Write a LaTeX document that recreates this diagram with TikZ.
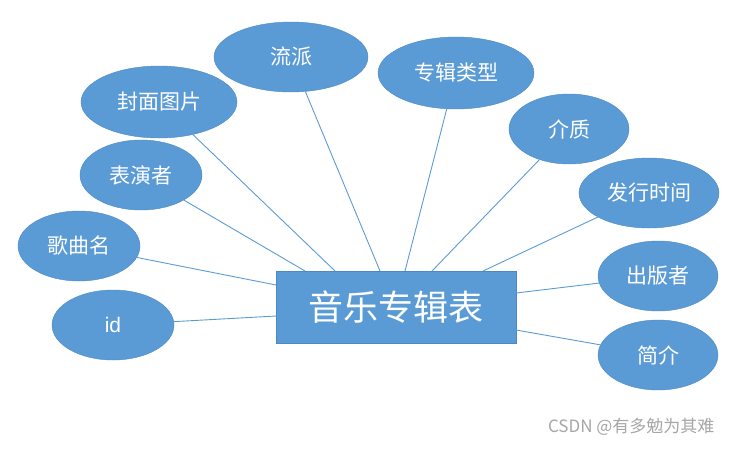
\documentclass[tikz,border=0pt]{standalone}
\usepackage{fontspec}
\usetikzlibrary{shapes.geometric}
\newfontfamily\cjk{Noto Sans CJK SC}
\definecolor{fillb}{HTML}{5B9BD5}
\definecolor{edgeb}{HTML}{4A89C4}
\begin{document}
\begin{tikzpicture}[x=1pt,y=-1pt,
  ell/.style={ellipse,draw=edgeb,fill=fillb,text=white,inner sep=0pt,font=\cjk\fontsize{21}{24}\selectfont},
  conn/.style={draw=fillb,line width=0.9pt}]
\useasboundingbox (0,0) rectangle (733,448);
\def\E#1#2#3#4#5#6{\node[ell,minimum width=#4*2pt,minimum height=#5*2pt] (#1) at (#2,#3) {#6};}
\E{lp}{291}{57}{77}{35}{流派}
\E{zj}{456}{73}{78}{36}{专辑类型}
\E{fm}{159}{102}{78}{36}{封面图片}
\E{jz}{569}{129}{60}{35}{介质}
\E{by}{141}{175}{61}{35}{表演者}
\E{fx}{649}{193}{70}{35}{发行时间}
\E{gq}{79}{246}{61}{35}{歌曲名}
\E{cb}{658}{276}{60}{35}{出版者}
\E{id}{113}{325}{61}{35}{\fontspec{Liberation Sans}id}
\E{jj}{658}{355}{60}{35}{简介}
\node[draw=edgeb,fill=fillb,text=white,minimum width=240pt,minimum height=72pt,inner sep=0pt,font=\cjk\fontsize{35}{40}\selectfont] (box) at (396,307) {音乐专辑表};
\coordinate (p1) at (380,271);
\coordinate (p2) at (405,271);
\coordinate (p3) at (335,271);
\coordinate (p4) at (432,271);
\coordinate (p5) at (305,271);
\coordinate (p6) at (483,271);
\coordinate (p7) at (276,285);
\coordinate (p8) at (516,293);
\coordinate (p9) at (276,316);
\coordinate (p10) at (516,330);
\draw[conn] (lp) -- (p1);
\draw[conn] (zj) -- (p2);
\draw[conn] (fm) -- (p3);
\draw[conn] (jz) -- (p4);
\draw[conn] (by) -- (p5);
\draw[conn] (fx) -- (p6);
\draw[conn] (gq) -- (p7);
\draw[conn] (cb) -- (p8);
\draw[conn] (id) -- (p9);
\draw[conn] (jj) -- (p10);
\node[text=gray!70,font=\cjk\fontsize{17}{20}\selectfont,anchor=east] (wm) at (718,427) {CSDN @有多勉为其难};
\end{tikzpicture}
\end{document}
